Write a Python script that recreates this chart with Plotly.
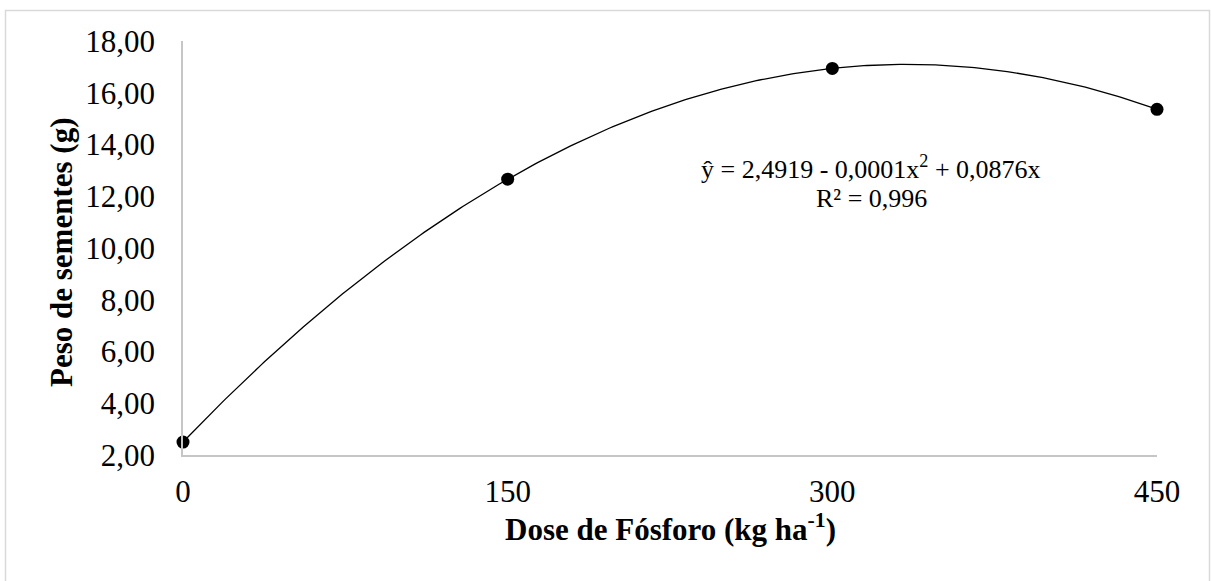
import numpy as np
import plotly.graph_objects as go

dose = [0, 150, 300, 450]
peso = [2.50, 12.66, 16.94, 15.36]
y_ticks = [2, 4, 6, 8, 10, 12, 14, 16, 18]
y_tick_labels = ["2,00", "4,00", "6,00", "8,00", "10,00", "12,00", "14,00", "16,00", "18,00"]
x_ticks = [0, 150, 300, 450]
x_tick_labels = ["0", "150", "300", "450"]

FONT = "Liberation Serif, Times New Roman, serif"

coef = np.polyfit(dose, peso, 2)
xs = np.linspace(min(dose), max(dose), 300)
ys = np.polyval(coef, xs)

fig = go.Figure()
fig.add_trace(go.Scatter(x=xs, y=ys, mode="lines", line=dict(color="black", width=1.3),
                         hoverinfo="skip", showlegend=False, cliponaxis=False))
fig.add_trace(go.Scatter(x=dose, y=peso, mode="markers", marker=dict(color="black", size=13),
                         showlegend=False, cliponaxis=False))

W, H = 1211, 581
L, R, T, B = 183, 54, 41, 126
pw, ph = W - L - R, H - T - B

fig.update_layout(
    width=W, height=H,
    margin=dict(l=L, r=R, t=T, b=B),
    paper_bgcolor="white", plot_bgcolor="white",
    font=dict(family=FONT, color="black"),
    xaxis=dict(range=[0, 450], tickvals=x_ticks, ticktext=x_tick_labels, showgrid=False,
               zeroline=False, showline=True, linecolor="#c6c6c6", linewidth=1.5,
               ticks="", tickfont=dict(size=31, family=FONT), ticklabelstandoff=8),
    yaxis=dict(range=[2, 18], tickvals=y_ticks, ticktext=y_tick_labels, showgrid=False,
               zeroline=False, showline=True, linecolor="#c6c6c6", linewidth=1.5,
               ticks="", tickfont=dict(size=31, family=FONT), ticklabelstandoff=20),
)

fig.add_annotation(text="<b>Dose de Fósforo (kg ha<sup>-1</sup>)</b>", xref="paper", yref="paper",
                   x=0.5, y=0, yshift=-72, xanchor="center", yanchor="middle", showarrow=False,
                   font=dict(size=31, family=FONT))
fig.add_annotation(text="<b>Peso de sementes (g)</b>", xref="paper", yref="paper",
                   x=0, y=0.5, xshift=61 - L, yshift=-5, xanchor="center", yanchor="middle",
                   textangle=-90, showarrow=False, font=dict(size=31, family=FONT))
fig.add_annotation(text="ŷ = 2,4919 - 0,0001x<sup>2</sup> + 0,0876x", xref="paper", yref="paper",
                   x=(871 - L) / pw, y=(H - B - 167) / ph, xanchor="center", yanchor="middle",
                   showarrow=False, font=dict(size=26, family=FONT))
fig.add_annotation(text="R² = 0,996", xref="paper", yref="paper",
                   x=(871 - L) / pw, y=(H - B - 198) / ph, xanchor="center", yanchor="middle",
                   showarrow=False, font=dict(size=26, family=FONT))

fig.add_shape(type="rect", xref="paper", yref="paper",
              x0=(5.5 - L) / pw, x1=(1209.5 - L) / pw,
              y0=(H - B - 595) / ph, y1=(H - B - 10.5) / ph,
              line=dict(color="#d9d9d9", width=1.5), fillcolor="rgba(0,0,0,0)", layer="below")

fig.write_html("out.html", config={"displayModeBar": False},
               post_script="document.body.style.margin='0';document.body.style.overflow='hidden';")
